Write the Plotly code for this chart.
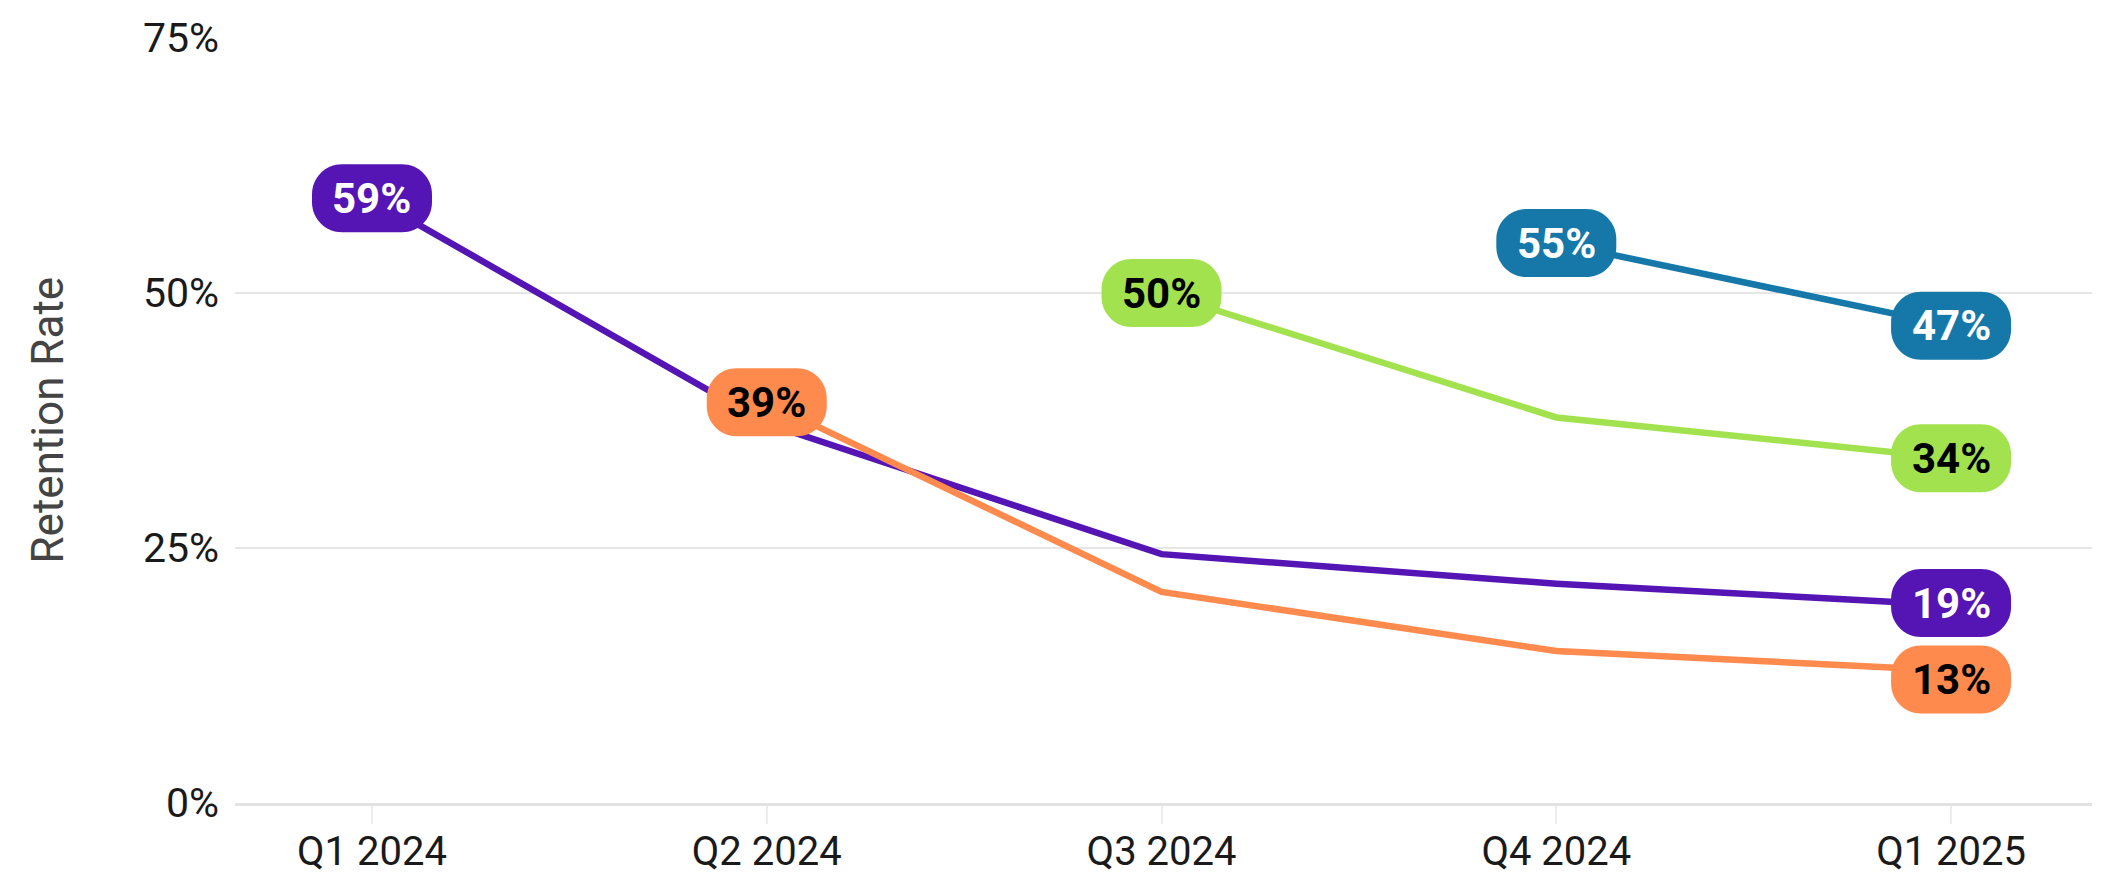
import plotly.graph_objects as go

# ---- data ----
quarters = ["Q1 2024", "Q2 2024", "Q3 2024", "Q4 2024", "Q1 2025"]
cohort_q1_2024 = [59.3, 37.2, 24.4, 21.5, 19.4]
cohort_q2_2024 = [None, 39.3, 20.7, 14.9, 13.0]
cohort_q3_2024 = [None, None, 50.0, 37.8, 33.8]
cohort_q4_2024 = [None, None, None, 54.9, 46.8]
y_ticks = [0, 25, 50, 75]
y_tick_labels = ["0%", "25%", "50%", "75%"]

series = [
    ("Q1 2024 cohort", cohort_q1_2024, "#5514B4", "white"),
    ("Q2 2024 cohort", cohort_q2_2024, "#FF8A4E", "black"),
    ("Q3 2024 cohort", cohort_q3_2024, "#A3E24F", "black"),
    ("Q4 2024 cohort", cohort_q4_2024, "#1578A9", "white"),
]
# pixel nudge of end labels to avoid collisions
label_nudge = {("Q2 2024 cohort", "end"): -9, ("Q1 2024 cohort", "end"): 2}

W, H, R = 120, 68, 30
K = 0.5523


def pill_path(dy):
    w, h, r = W / 2, H / 2, R
    c = r * (1 - K)
    pts = [
        f"M {-w + r},{-h + dy}",
        f"L {w - r},{-h + dy}",
        f"C {w - c},{-h + dy} {w},{-h + c + dy} {w},{-h + r + dy}",
        f"L {w},{h - r + dy}",
        f"C {w},{h - c + dy} {w - c},{h + dy} {w - r},{h + dy}",
        f"L {-w + r},{h + dy}",
        f"C {-w + c},{h + dy} {-w},{h - c + dy} {-w},{h - r + dy}",
        f"L {-w},{-h + r + dy}",
        f"C {-w},{-h + c + dy} {-w + c},{-h + dy} {-w + r},{-h + dy}",
        "Z",
    ]
    return " ".join(pts)


fig = go.Figure()
shapes = []
annotations = []
for name, vals, color, txtcol in series:
    fig.add_trace(go.Scatter(
        x=quarters, y=vals, mode="lines", name=name,
        line=dict(color=color, width=6.5), connectgaps=False,
        hoverinfo="skip", showlegend=False,
    ))
    idx = [i for i, v in enumerate(vals) if v is not None]
    for which, i in (("start", idx[0]), ("end", idx[-1])):
        v = vals[i]
        dy = label_nudge.get((name, which), 0)
        shapes.append(dict(
            type="path", xref="x", yref="y",
            xsizemode="pixel", ysizemode="pixel",
            xanchor=i, yanchor=v,
            path=pill_path(dy),
            fillcolor=color, line=dict(width=0), layer="above",
        ))
        annotations.append(dict(
            x=quarters[i], y=v, xref="x", yref="y",
            text=f"{round(v)}%", showarrow=False, yshift=dy,
            font=dict(family="Roboto", size=42, color=txtcol, weight=700),
        ))

annotations.append(dict(
    x=0, y=0.5, xref="paper", yref="paper", xshift=-188,
    text="Retention Rate", textangle=-90, showarrow=False,
    xanchor="center", yanchor="middle",
    font=dict(family="Roboto", size=44, color="#444444", weight=400),
))

fig.update_layout(
    width=2089, height=862,
    margin=dict(l=227, r=5, t=30, b=67),
    paper_bgcolor="white", plot_bgcolor="white",
    shapes=shapes, annotations=annotations,
    font=dict(family="Roboto", size=40, color="#1a1a1a"),
)
fig.update_xaxes(
    type="category", categoryorder="array", categoryarray=quarters,
    range=[-0.347, 4.357], showgrid=False, zeroline=False,
    showline=True, linecolor="#e3e3e3", linewidth=2.5,
    ticks="outside", ticklen=18, tickcolor="#ececec", tickwidth=1.5,
    tickfont=dict(family="Roboto", size=40, color="#1a1a1a"),
    automargin=False, ticklabelstandoff=-7,
)
fig.update_yaxes(
    range=[0, 75], tickvals=y_ticks, ticktext=y_tick_labels,
    showgrid=True, gridcolor="#e6e6e6", gridwidth=2, zeroline=False,
    showline=False, ticks="",
    tickfont=dict(family="Roboto", size=41, color="#1a1a1a"),
    automargin=False, ticklabelstandoff=15,
)

fig.write_html("out.html")
